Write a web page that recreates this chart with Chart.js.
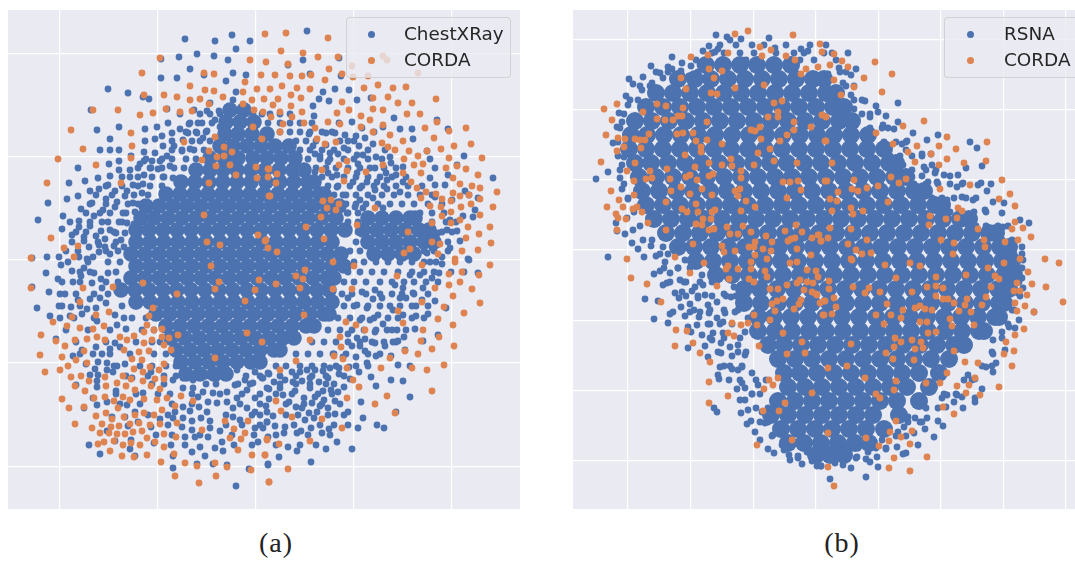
<!DOCTYPE html>
<html><head><meta charset="utf-8">
<script src="https://cdn.jsdelivr.net/npm/chart.js@4/dist/chart.umd.min.js"></script>
<style>
html,body{margin:0;padding:0;background:#fff;width:1075px;height:561px;overflow:hidden}
canvas{position:absolute;background:#EAEAF2;display:block}
.legend{position:absolute;box-sizing:border-box;height:61px;top:17px;background:rgba(234,234,242,.8);border:1px solid rgba(204,204,204,.8);border-radius:4px;font:18.4px "DejaVu Sans",sans-serif;color:#262626}
.legend span{position:absolute;white-space:nowrap;line-height:22px}
.legend i{position:absolute;width:7px;height:7px;border-radius:50%}
.cap{position:absolute;top:527px;font:28px "Liberation Serif",serif;letter-spacing:1px;color:#222;transform:translateX(-50%)}
</style></head><body>
<canvas id="a" width="512" height="499" style="left:8px;top:10px"></canvas>
<canvas id="b" width="502" height="499" style="left:573px;top:10px"></canvas>
<div class="legend" style="left:346px;width:165px"><i style="left:21px;top:13px;background:#4C72B0"></i><i style="left:21px;top:39px;background:#DD8452"></i><span id="la1" style="left:57px;top:5px"></span><span id="la2" style="left:57px;top:31px"></span></div>
<div class="legend" style="left:944px;width:140px"><i style="left:22px;top:13px;background:#4C72B0"></i><i style="left:22px;top:39px;background:#DD8452"></i><span id="lb1" style="left:59px;top:5px"></span><span id="lb2" style="left:59px;top:31px"></span></div>
<div class="cap" id="ca" style="left:276px"></div>
<div class="cap" id="cb" style="left:842px"></div>
<script>
// Values are estimates, in arbitrary embedding units; lists alternate x,y.
const captions=["(a)","(b)"];
const seriesA=["ChestXRay","CORDA"];
const seriesB=["RSNA","CORDA"];
const xTicksA=[-196,-98,0,98,196];
const yTicksA=[206,103,0,-103,-207];
const xTicksB=[-188,-125,-62,0,63,125,188,250];
const yTicksB=[210,140,70,0,-71,-141,-211];

const cordaA=[9,226,-96,202,-6,200,10,198,-114,187,-52,187,-42,186,5,185,-11,178,-66,174,1,171,-51,170,-42,169,-13,168,-112,165,-92,165,-79,163,-33,163,-66,160,-56,161,-4,160,8,161,-47,156,-13,156,-163,150,-138,150,-90,151,-103,147,-76,148,-64,149,-2,150,7,148,-116,145,-3,133,-185,130,-125,127,-41,123,6,121,-72,118,-124,114,-173,111,-32,113,-47,109,-24,108,-39,103,-32,104,-125,102,-198,101,-54,100,-160,95,-40,94,-26,95,0,93,12,91,-20,85,1,82,12,83,-209,77,-135,77,-47,77,13,64,-52,45,-205,22,2,25,10,20,-49,18,-36,15,-178,14,-192,12,-225,2,-182,3,
30,227,72,222,25,209,47,207,62,203,82,203,32,196,127,204,131,200,115,199,96,194,73,191,19,185,34,184,46,184,55,185,86,186,97,183,112,184,162,187,69,180,122,175,137,172,150,173,26,174,41,172,54,171,14,171,108,172,35,165,132,163,45,162,117,162,180,161,22,161,86,158,142,157,156,157,35,154,17,155,24,148,46,148,93,150,117,151,127,150,81,147,105,144,151,146,164,146,36,143,15,143,114,140,27,136,48,137,72,138,84,136,105,133,127,135,181,138,59,132,169,132,193,129,210,132,24,128,117,128,134,125,61,121,80,118,126,117,147,119,178,122,69,116,215,116,198,114,132,113,139,110,153,109,185,111,171,109,162,104,148,101,226,102,193,102,91,99,167,96,158,95,83,95,127,95,201,94,190,92,210,91,66,90,13,91,91,89,110,88,147,87,165,87,222,85,21,86,197,82,88,79,20,77,155,78,204,76,216,74,224,72,161,72,241,68,170,68,180,66,197,67,204,64,213,65,14,64,165,62,186,61,224,61,75,60,67,59,83,56,195,59,215,56,174,54,71,52,80,50,119,52,185,53,237,53,205,53,195,48,224,45,186,44,65,43,204,40,195,37,176,37,50,33,101,35,212,33,234,33,152,28,223,26,68,21,9,19,210,22,176,18,184,16,235,17,12,12,154,11,206,9,222,10,21,8,148,7,182,6,199,1,
-45,-6,3,-20,-37,-22,-113,-23,-143,-27,-225,-28,-173,-28,-41,-29,-1,-30,-79,-34,-11,-41,-176,-42,-103,-48,-147,-52,-160,-55,-107,-56,-184,-57,-203,-62,-109,-65,-152,-66,-189,-66,-176,-68,-163,-69,-94,-69,-102,-70,-112,-72,-9,-73,-215,-75,-78,-75,-136,-77,-122,-76,-159,-77,-94,-77,-87,-78,-104,-80,-129,-80,-169,-79,-181,-80,-151,-80,-200,-81,6,-82,-112,-83,-92,-85,-191,-86,-132,-90,-85,-90,-107,-91,-117,-92,-172,-91,-216,-95,-194,-97,-124,-99,-114,-100,-41,-98,-180,-100,-169,-103,-92,-104,-188,-106,-106,-107,-122,-109,-97,-110,-196,-110,-211,-112,-113,-112,-133,-116,-185,-117,-175,-116,-151,-117,-125,-119,-101,-119,-92,-119,-167,-121,-113,-121,-139,-123,-181,-126,-150,-126,-130,-126,-105,-126,-171,-131,-121,-130,-96,-129,-194,-139,-162,-138,-151,-137,-133,-137,-126,-140,-112,-139,-99,-140,-89,-138,-75,-136,-142,-141,-63,-141,-187,-148,-172,-147,-138,-148,-81,-146,-94,-150,-150,-153,-112,-153,-121,-155,-102,-155,-160,-156,-132,-157,-144,-159,-181,-164,-154,-164,-137,-166,-126,-164,-117,-163,-106,-165,-96,-164,-79,-163,-31,-161,-8,-161,-145,-167,-164,-168,-54,-170,-22,-169,-114,-171,-156,-173,-147,-173,-139,-174,-131,-174,-123,-172,-92,-174,-11,-173,-80,-177,-109,-178,-26,-178,-15,-179,11,-180,-142,-181,-125,-183,-152,-182,-158,-184,-101,-182,-133,-185,-116,-185,-92,-187,-18,-190,-146,-191,-82,-194,-109,-195,-134,-196,-122,-197,-4,-195,9,-195,-95,-202,-71,-203,-59,-206,-41,-203,-29,-207,-5,-210,-81,-216,-40,-216,-57,-223,13,-222,
77,-2,98,-6,199,-2,234,-5,166,-5,49,-10,141,-16,40,-16,47,-19,193,-14,206,-12,223,-15,20,-24,44,-28,77,-29,96,-29,179,-28,193,-25,204,-22,216,-29,197,-36,166,-42,224,-43,188,-47,142,-51,208,-53,48,-55,182,-59,90,-62,147,-63,197,-65,100,-65,109,-70,167,-70,84,-77,183,-77,54,-80,165,-81,85,-87,198,-86,176,-89,149,-91,162,-94,78,-96,134,-98,87,-99,40,-101,188,-105,91,-108,125,-108,156,-108,171,-110,24,-110,97,-120,103,-127,176,-131,131,-136,91,-138,119,-144,20,-141,25,-151,139,-153,36,-157,66,-159,86,-168,11,-179,23,-184,54,-181,9,-195,32,-209,13,-222];

const chestXRay=[-71,221,-41,219,-24,225,-6,219,-20,211,-59,206,-77,203,-42,204,-28,200,-95,201,-66,191,-23,187,-10,185,-95,182,-79,182,-52,185,-30,179,-148,171,-128,167,-107,161,-113,163,-20,168,-23,160,-46,157,-28,153,-165,150,-89,151,-76,146,-62,150,-49,149,-37,149,-19,149,-41,140,-14,149,-159,130,-137,133,-111,131,-99,133,-88,137,-67,136,-58,137,-33,141,-76,131,-84,127,-68,127,-59,127,-49,129,-36,133,-146,121,-94,124,-101,121,-111,119,-64,119,-73,120,-53,122,-156,110,-146,110,-137,110,-93,114,-82,114,-66,111,-112,108,-101,107,-125,104,-89,104,-74,109,-137,99,-147,96,-178,92,-104,99,-96,99,-112,99,-116,96,-86,94,-137,90,-105,92,-98,91,-126,90,-146,84,-158,82,-112,85,-126,83,-171,79,-187,77,-83,82,-148,75,-123,75,-113,76,-93,83,-166,69,-157,71,-141,69,-129,69,-114,67,-208,57,-178,64,-189,61,-150,61,-131,64,-164,57,-139,58,-123,57,-175,51,-153,50,-141,53,-218,40,-193,44,-162,44,-133,47,-121,48,-177,39,-154,38,-137,38,-129,37,-177,33,-166,34,-194,31,-146,30,-155,29,-122,36,-184,25,-172,23,-160,24,-140,27,-131,27,-151,21,-172,19,-135,20,-157,15,-167,13,-151,13,-142,14,-132,13,-209,3,-197,3,-177,3,-163,3,-157,8,-146,6,-224,2,-169,1,
51,229,47,200,83,202,32,195,54,186,85,184,79,171,93,170,67,168,63,161,73,159,101,160,115,162,57,154,58,144,138,142,96,138,181,140,83,137,106,132,144,131,156,131,118,128,192,131,70,127,79,127,89,125,100,124,127,133,53,126,109,122,157,121,92,119,88,112,103,114,117,116,70,115,57,114,129,110,171,109,59,106,74,107,82,106,101,105,107,105,120,103,208,104,134,103,64,104,72,98,102,96,119,92,135,97,147,93,174,101,179,92,201,95,59,88,101,87,72,87,130,87,174,82,192,85,237,82,81,85,140,85,111,78,97,78,121,78,131,80,147,78,179,75,189,75,68,68,81,73,104,72,209,69,119,70,131,71,144,68,179,63,196,60,213,65,99,53,87,65,104,60,117,62,222,62,107,52,127,52,219,50,91,47,207,44,217,43,194,40,112,42,191,30,201,29,182,27,204,19,194,12,176,12,212,1,186,3,171,7,
-210,-13,-195,-5,-184,-11,-198,-19,-183,-22,-175,-16,-164,-23,-172,-8,-207,-32,-224,-27,-191,-34,-154,-28,-162,-13,-155,-19,-148,-13,-166,-39,-178,-40,-156,-38,-219,-48,-197,-46,-185,-47,-169,-49,-160,-48,-150,-43,-206,-56,-186,-56,-174,-54,-141,-55,-132,-58,-159,-61,-139,-65,-130,-69,-200,-79,-141,-83,-160,-87,-146,-89,-136,-87,-174,-90,-183,-96,-163,-94,-154,-94,-170,-104,-158,-102,-149,-103,-139,-106,-131,-104,-161,-109,-149,-110,-105,-112,-166,-115,-158,-115,-143,-112,-180,-125,-159,-127,-159,-121,-140,-131,-124,-118,-113,-133,-163,-138,-149,-142,-159,-145,-129,-145,-172,-148,-121,-152,-144,-157,-131,-157,-118,-162,-105,-167,-149,-171,-128,-166,-141,-181,-125,-180,-167,-185,-126,-189,-102,-183,-156,-194,-121,-196,-83,-196,-43,-204,-59,-204,-29,-205,-83,-208,-7,-209,12,-204,-20,-226,-81,-152,-73,-147,-66,-151,-57,-147,-49,-152,-83,-158,-73,-158,-64,-161,-55,-158,-46,-161,-74,-167,-64,-170,-46,-168,-36,-171,-71,-177,-61,-177,-48,-177,-34,-182,-71,-185,-64,-192,-56,-187,-51,-196,-41,-188,-33,-191,-23,-157,-16,-160,-1,-168,2,-182,11,-162,-23,-148,-9,-148,-1,-152,11,-152,-39,-143,-29,-142,-19,-138,-9,-130,-1,-138,11,-128,-48,-142,-58,-137,-73,-128,-63,-128,-53,-132,-43,-133,-29,-132,-21,-125,-11,-120,-3,-123,6,-118,-83,-120,-73,-118,-63,-120,-39,-118,-29,-115,-19,-110,-1,-112,12,-113,-96,-159,
213,0,186,-4,222,-13,208,-12,195,-12,183,-13,174,-2,176,-18,164,-15,154,-15,167,-28,157,-33,147,-28,139,-25,179,-41,166,-40,150,-38,144,-38,126,-38,117,-39,156,-46,190,-48,172,-54,160,-56,147,-55,137,-50,122,-55,111,-48,101,-45,92,-38,119,-30,106,-32,114,-60,127,-64,104,-60,141,-70,159,-69,119,-72,131,-70,92,-74,101,-78,109,-79,119,-83,148,-77,182,-75,167,-81,142,-81,129,-86,137,-82,96,-86,104,-86,109,-91,149,-90,87,-97,100,-97,120,-96,135,-96,77,-94,111,-103,142,-105,154,-106,83,-108,93,-107,103,-112,74,-108,67,-111,59,-110,51,-110,44,-112,36,-112,83,-114,13,-114,115,-117,135,-120,147,-121,94,-119,72,-118,63,-122,54,-118,46,-121,37,-122,29,-120,18,-122,7,-118,120,-126,78,-124,88,-127,67,-131,54,-128,39,-131,24,-128,13,-129,75,-130,82,-132,154,-137,59,-137,48,-138,33,-142,13,-139,27,-135,79,-141,68,-140,56,-143,105,-142,10,-146,40,-147,46,-148,72,-148,64,-146,79,-154,92,-152,53,-153,140,-152,17,-156,61,-152,107,-158,49,-160,58,-158,121,-165,128,-168,102,-168,11,-162,73,-169,19,-166,29,-167,55,-168,7,-168,66,-173,45,-171,41,-173,28,-173,12,-177,81,-182,32,-187,70,-189,41,-191,96,-189,23,-197,55,-202,12,-205];

// Further estimated dots for the busy band around the core: [y, x, x, ...]
const chestXRayBandRows=[
[146,-56,-46,-36,-3,6,14,24,34],[137,-66,-54,-44,12,24,34,44,56],[128,-70,-60,-50,24,34,44,54,66,76],
[119,-84,-56,-46,40,50,60,84,98],[110,-84,-74,-62,-52,44,54,66,78,92,112],[101,-110,-94,-84,-70,-60,52,64,74,88,98,112,126],
[92,-118,-106,-94,-82,-72,60,70,80,92,104,114,128,140],[83,-134,-118,-104,-92,66,76,88,100,112,124,136,150],
[74,-150,-134,-118,-106,-94,72,82,94,106,118,128,140,152,166],[65,-160,-144,-122,-108,78,90,100,112,126,138,152,164,176],
[56,-166,-150,-128,-118,90,100,110,122,134,146,158,172,186],[47,-170,-156,-146,-130,92,102,164,176,188],
[38,-186,-166,-148,-134,92,102,176,190,200],[28,-180,-170,-142,102,186,196],[18,-184,-158,-140,100,108,192],
[9,-190,-178,-150,-138,94,104,168,178,192],[-2,-188,-168,-148,-136,98,108,120,132,144,156,168,180],
[-12,-176,-166,-140,92,104,116,128,142,156,168,178],[-22,-194,-176,-150,-138,88,98,110,124,136,148,158,170,182],
[-34,-196,-180,-162,-148,86,96,110,124,136,146,158,172],[-46,-194,-176,-134,-120,88,98,112,124,134,144,160,172],
[-58,-196,-182,-162,-124,-110,82,94,106,118,132,142,156,168],[-70,-190,-168,-146,-114,-102,72,84,96,108,120,136,150],
[-82,-180,-150,-120,-104,-96,56,68,80,92,104,116,128,140],[-94,-176,-146,-126,-102,-90,40,52,64,78,90,112,124],
[-106,-142,-116,-104,-90,-80,20,30,44,56,68,80,100,112],[-116,-130,-108,-92,-80,-50,-34,-10,4,24,40,56,70,88],
[-124,-104,-92,-50,-40,-18,-6,24,40,54,70],[-134,-140,-120,-98,-86,-64,-36,-14,4,20,36,62,76],
[-144,-136,-116,-84,-64,-16,4,30,48,66,84],[-155,-108,-88,-30,-4,4,30,42,72,88],[-165,-88,-30,-14,4,38,64,78,92],
[-175,-100,-84,-56,-24,-2,20,52,74],[-185,-85,-22,-4,20,44,60]];

// Hand-placed larger marks standing in for solid regions where single dots cannot be told apart: [y, x, x, ...]
const chestXRayDenseRows=[
[150,-26,-12],[138,-30,-16,-2],[126,-31,-18,-4,11],[114,-36,-23,-9,5,19,33],[102,-46,-32,-18,-3,11,25,39],
[90,-60,-46,-33,-19,-5,9,23,37,48],[78,-75,-61,-47,-33,-19,-5,10,24,38,52,58],
[66,-90,-76,-62,-48,-34,-20,-6,8,22,36,50,64,68],[54,-110,-97,-83,-69,-55,-41,-27,-13,1,15,29,43,57,71,83],
[42,-115,-102,-88,-74,-60,-46,-32,-18,-4,10,24,38,52,66,80,112,126,140,154,159],
[30,-120,-107,-93,-79,-65,-51,-37,-23,-9,5,19,33,47,61,75,89,107,121,135,149,163,173],
[18,-120,-106,-92,-78,-64,-50,-36,-22,-8,6,20,34,48,62,76,112,126,140,154,168,178],
[6,-125,-111,-97,-83,-69,-55,-41,-27,-13,1,15,29,43,57,71,85,118,132,146,158],
[-6,-120,-106,-92,-78,-64,-50,-36,-22,-8,6,20,34,48,62,76,88],
[-18,-125,-111,-97,-83,-69,-55,-41,-27,-13,1,15,29,43,57,71,78],
[-30,-135,-121,-107,-93,-79,-65,-51,-37,-23,-9,5,19,33,47,61,73],
[-42,-120,-106,-92,-78,-64,-50,-36,-22,-8,6,20,34,48,62,76],
[-54,-100,-86,-72,-58,-44,-30,-16,-2,12,26,40,54,68,73],
[-66,-90,-76,-62,-48,-34,-20,-6,8,22,36,50,58],[-78,-85,-71,-57,-43,-29,-15,-1,13,27,38],
[-90,-80,-66,-52,-38,-24,-10,4,18,24],[-102,-75,-61,-47,-33,-19,-5,4],[-114,-70,-56,-42,-30]];

const cordaB=[-81,216,-68,219,-23,215,4,206,-125,193,-108,195,-88,197,-56,203,-45,200,-54,194,-30,194,-21,190,6,198,2,183,-10,181,-15,176,-107,181,-94,179,-135,172,-102,172,-52,165,-81,162,-130,161,-105,157,-99,156,-199,146,-212,141,-159,146,-150,144,-133,142,-173,138,-42,147,-34,149,-38,138,-159,131,-151,130,-143,130,-138,134,-134,134,-38,133,-48,133,-204,130,-109,128,-22,128,6,135,-5,123,-56,123,-22,120,-65,120,-61,119,-210,115,-167,116,-139,116,-133,117,-123,117,-29,115,-198,112,-191,111,-181,111,-176,110,-171,110,-120,109,-109,110,-55,111,-36,109,9,109,-192,103,-175,102,-94,106,-115,103,-46,101,-199,99,-115,98,-58,97,-131,95,-85,91,-42,89,-215,88,-181,87,-107,87,-94,85,-84,84,-62,85,-19,87,-121,83,-149,81,-166,79,-189,79,-75,79,-164,72,-170,71,-146,71,-130,73,-126,75,-107,74,-103,76,-75,72,-119,70,-182,69,-33,68,-26,68,-18,69,9,69,-135,63,-114,61,-205,59,-145,59,-81,59,-76,61,-15,60,-182,55,-126,56,-104,55,-78,54,-197,50,-29,52,-150,48,-70,49,-120,46,-209,43,-193,43,-179,43,-183,41,-61,43,-134,41,-174,38,-129,38,-118,38,-104,38,-101,40,-75,39,-200,36,-198,32,-190,31,-113,31,-105,31,-168,27,-120,26,-114,25,-73,24,-20,25,-89,23,-199,20,-150,20,-107,20,-102,21,-31,19,-65,18,-14,18,2,15,-86,16,-78,16,-50,14,-4,12,-28,9,-25,11,-21,12,5,9,-44,8,-61,8,-123,6,-94,4,-67,3,-62,3,-53,1,-19,1,-45,-1,-81,-1,-92,-2,-5,-5,-61,-5,-189,-9,-141,-7,-49,-9,
18,196,26,189,59,188,14,185,32,183,76,176,48,172,18,170,38,163,66,158,25,155,10,133,108,129,87,124,60,117,131,113,10,109,171,108,77,106,123,104,101,104,140,101,92,98,115,96,131,91,170,89,148,87,99,88,123,85,16,87,75,73,186,70,90,71,11,69,38,70,83,67,62,64,154,65,36,61,51,62,42,59,124,61,22,58,194,56,183,51,14,51,21,49,72,48,199,44,35,42,142,42,146,39,16,39,47,39,37,36,114,34,130,31,141,32,199,28,113,25,207,22,196,21,14,22,35,21,162,21,215,13,3,15,12,12,5,9,51,10,125,10,168,10,202,10,32,6,138,7,189,8,169,3,40,0,46,-4,55,-3,137,-4,35,-9,229,-9,204,-9,
-112,-13,-88,-16,-90,-19,-78,-19,-65,-12,-65,-19,-51,-21,-49,-27,-126,-23,-87,-29,-185,-28,-169,-34,-67,-29,-62,-32,-99,-36,-26,-13,-19,-12,-9,-20,0,-21,2,-27,-16,-30,-19,-33,-9,-32,-3,-33,-29,-35,-46,-39,-38,-39,-12,-40,-4,-42,0,-44,-155,-52,-33,-49,-39,-51,-44,-54,-15,-50,-17,-54,4,-53,8,-51,-22,-59,-41,-61,-62,-65,7,-65,-46,-70,-84,-73,-75,-75,-68,-73,-59,-75,-140,-80,-129,-81,-88,-83,-82,-86,-33,-83,-14,-92,-123,-93,-141,-96,-57,-96,-116,-103,-11,-103,-29,-104,-106,-112,-47,-130,-38,-128,-43,-135,-107,-132,-52,-139,-4,-143,-88,-146,-107,-153,-31,-153,-53,-161,-37,-161,-24,-190,-59,-195,
243,-13,188,-13,36,-10,69,-15,94,-13,104,-16,172,-18,212,-22,150,-25,179,-26,183,-29,80,-28,120,-27,13,-31,201,-33,216,-34,230,-37,175,-37,120,-36,111,-37,127,-38,37,-37,53,-38,13,-39,198,-41,204,-41,96,-42,64,-42,49,-43,211,-45,1,-45,120,-46,170,-47,151,-49,127,-49,132,-49,18,-48,247,-52,9,-51,71,-54,138,-53,199,-53,149,-55,209,-56,166,-55,20,-57,99,-58,104,-56,109,-59,116,-60,143,-61,155,-62,201,-61,218,-62,87,-60,8,-65,16,-64,60,-65,75,-65,85,-68,134,-69,68,-74,104,-72,111,-72,136,-76,158,-75,208,-79,112,-83,120,-82,199,-85,79,-88,96,-90,85,-92,105,-92,190,-92,35,-94,78,-97,99,-99,107,-98,138,-101,198,-101,188,-104,70,-103,77,-109,98,-110,149,-112,162,-113,196,-116,12,-118,31,-116,131,-123,49,-128,159,-128,110,-133,124,-133,80,-131,153,-135,141,-136,183,-137,78,-140,150,-143,60,-144,164,-145,64,-148,127,-157,138,-164,80,-171,12,-183,74,-182,96,-181,50,-188,85,-187,73,-191,94,-194,63,-196,111,-207,78,-208,12,-217,73,-218,94,-221,18,-236];

const rsna=[-47,212,-100,215,-89,213,-86,210,-75,211,-107,204,-113,199,-98,201,-101,198,-41,202,-15,201,-8,199,-144,193,-134,187,-165,184,-125,184,-116,185,-148,183,-144,181,-135,179,-156,177,-187,171,-173,173,-153,172,-143,172,-127,174,-183,166,-164,167,-190,154,-174,160,-188,145,-197,137,-194,128,-199,123,-203,107,-208,78,-220,71,-196,72,-194,61,-188,51,-200,27,-199,19,-191,16,-183,20,-184,7,-208,-7,-172,-7,-178,1,-165,4,-160,-6,-153,3,-192,93,-194,85,-173,10,-189,32,
32,197,8,197,40,181,35,175,23,182,12,176,27,167,35,155,82,147,49,149,38,141,60,144,62,138,70,134,54,133,82,128,67,125,78,121,97,117,122,115,111,110,154,108,161,102,91,109,86,106,72,104,106,96,115,96,90,100,166,84,150,82,87,85,108,83,116,85,119,77,128,75,134,74,142,75,106,74,112,68,175,66,165,67,147,67,141,63,102,63,162,65,171,59,131,50,177,48,188,47,204,30,213,27,187,23,206,3,196,3,186,37,169,40,157,50,146,53,121,68,96,73,
-162,-24,-171,-49,-158,-51,-162,-69,-148,-73,-146,-64,-143,-62,-153,-35,-149,-33,-141,-43,-137,-48,-134,-42,-135,-57,-126,-54,-131,-66,-126,-62,-136,-30,-130,-32,-146,-23,-138,-18,-156,-21,-151,-12,-124,-41,-121,-37,-118,-48,-113,-35,-111,-45,-108,-55,-116,-62,-117,-67,-107,-63,-99,-68,-99,-52,-91,-63,-92,-44,-82,-37,-85,-47,-119,-75,-128,-77,-125,-82,-106,-74,-93,-72,-114,-85,-103,-83,-93,-83,-104,-90,-95,-93,-128,-98,-111,-96,-86,-97,-108,-107,-95,-103,-84,-106,-96,-117,-92,-116,-84,-119,-98,-125,-97,-129,-87,-130,-78,-120,-74,-133,-79,-139,-71,-138,-64,-144,-76,-150,-71,-150,-102,-158,-99,-162,-75,-163,-68,-160,-69,-174,-65,-171,-61,-182,-56,-190,-48,-199,-42,-203,-32,-200,-27,-205,-18,-206,-26,-210,-14,-214,-4,-211,1,-216,5,-216,-54,-162,-51,-173,-43,-185,-34,-195,-9,-202,-71,-105,-74,-117,-64,-123,-58,-135,-78,-95,-71,-82,-81,-62,-74,-48,-68,-68,-51,-65,-84,-25,-94,-25,-104,-18,-114,-25,-124,-15,-131,-10,
207,-10,206,-18,206,-28,207,-38,202,-43,198,-60,218,-62,203,-70,199,-78,193,-77,186,-82,177,-90,189,-100,177,-104,180,-113,170,-117,177,-122,152,-125,159,-129,166,-139,159,-148,159,-152,147,-158,138,-152,141,-145,146,-147,131,-145,126,-148,130,-157,122,-171,127,-176,109,-179,118,-187,111,-168,104,-172,99,-168,92,-167,88,-177,98,-183,82,-182,102,-195,81,-197,90,-203,87,-204,70,-199,66,-190,61,-207,54,-212,50,-209,62,-217,50,-227,35,-218,27,-215,19,-213,14,-229,5,-216,41,-207,52,-202,32,-208,42,-198];

const rsnaBandRows=[
[205,-96,-80,-64,-52,-30,-6,10],[197,-104,-92,-76,-62,-40,-22,-12,16],[190,-120,-108,-94,-70,-16,-2,20],[178,-160,-148,-118,24,30],
[164,-176,-166,30,38],[150,-186,-178,38,46],[136,-192,46,54],[122,-196,54,66,72],[108,-198,68,80,90],[94,-198,74,84,96,106],
[80,-196,84,96,110,120],[66,-192,98,110,122,134,146],[52,-188,116,126,138,150,160],[38,-182,134,146,158,170],[24,-176,160,170,182,192],
[10,-164,186,196],[-4,-156,-148,198,206],[-18,-152,-138,-126,204],[-32,-146,-132,-116,-104,203],[-46,-130,-118,-104,-90,-80,204],
[-60,-122,-106,-92,-78,196],[-74,-108,-96,-84,192],[-88,-106,-92,-76,186],[-102,-98,-78,-70,176],[-116,-86,-74,166,176],
[-130,-76,-60,-50,148,156],[-144,-64,-56,128,140],[-158,-60,-48,110,122],[-172,-56,-48,92,106],[-186,-44,80,90],[-198,-30,-12,8,30,60,70],[-208,-18,-4,20,40]];

const rsnaDenseRows=[
[185,-110,-93,-76,-59,-42,-25],[171,-138,-121,-105,-88,-71,-54,-37,-20,-3,8],
[157,-160,-143,-126,-109,-92,-75,-58,-41,-24,-7,10,20],[143,-170,-153,-136,-119,-102,-85,-68,-51,-34,-17,0,17,28],
[129,-181,-164,-147,-130,-113,-96,-79,-62,-45,-28,-11,6,23,36],[115,-185,-169,-152,-135,-118,-101,-84,-67,-50,-33,-16,1,18,35,52],
[101,-187,-170,-153,-136,-119,-102,-85,-68,-51,-34,-17,0,17,34,51,68],[87,-181,-165,-148,-131,-114,-97,-80,-63,-46,-29,-12,5,22,39,56,73,80],
[73,-177,-160,-143,-126,-109,-92,-75,-58,-41,-24,-7,10,27,44,61,78,90],[59,-174,-157,-140,-123,-106,-89,-72,-55,-38,-21,-4,13,30,47,64,81,98,108],
[45,-170,-153,-136,-119,-102,-85,-68,-51,-34,-17,0,17,34,51,68,85,102,119,126],[31,-162,-145,-128,-111,-94,-77,-60,-43,-26,-9,8,25,42,59,76,93,110,127,144,153],
[17,-150,-133,-116,-99,-82,-65,-48,-31,-14,3,20,37,54,71,88,105,122,139,156,173,180],[3,-138,-122,-105,-88,-71,-54,-37,-20,-3,14,31,48,65,82,99,116,133,150,167,184,193],
[-11,-120,-103,-86,-69,-52,-35,-18,-1,16,33,50,67,84,101,118,135,152,169,186,196],[-25,-100,-84,-67,-50,-33,-16,1,18,35,52,69,86,103,120,137,154,171,188,198],
[-39,-72,-56,-39,-22,-5,12,29,46,63,80,97,114,131,148,165,182,193],[-53,-72,-55,-38,-21,-4,13,30,47,64,81,98,115,132,149,166,183,188],
[-67,-58,-42,-25,-8,9,26,43,60,77,94,111,128,145,162,179,183],[-81,-58,-41,-24,-7,10,27,44,61,78,95,112,129,146,163,168],
[-95,-48,-32,-15,2,19,36,53,70,87,104,121,138,148],[-109,-38,-21,-4,13,30,47,64,81,98,115,133],
[-123,-32,-16,1,18,35,52,69,86,103,123],[-137,-28,-11,6,23,40,57,74,91,113],[-151,-38,-21,-4,13,30,47,64,81,103],
[-165,-45,-28,-11,6,23,40,57,83],[-179,-35,-18,-1,16,33,50,68],[-193,-28,-12,5,22,39,53],[-205,0,14,28]];

const BLUE="#4C72B0",ORANGE="#DD8452",R=3.4;
const pairs=f=>{const o=[];for(let i=0;i<f.length;i+=2)o.push({x:f[i],y:f[i+1]});return o;};
const rows=r=>r.flatMap(([y,...xs])=>xs.map(x=>({x,y})));
function draw(id,names,dots,band,corda,dense,denseR,xr,yr,xt,yt){
  const ax=(range,t)=>({type:"linear",min:range[0],max:range[1],
    grid:{color:"#fff",lineWidth:1.2,drawTicks:false},border:{display:false},
    ticks:{display:false},afterBuildTicks:s=>{s.ticks=t.map(v=>({value:v}));}});
  new Chart(document.getElementById(id),{type:"scatter",data:{datasets:[
    {label:names[0]+" (dense region)",data:rows(dense),backgroundColor:BLUE,pointRadius:denseR,borderWidth:0,order:4},
    {label:names[0]+" (band)",data:rows(band),backgroundColor:BLUE,pointRadius:R,borderWidth:0,order:3},
    {label:names[0],data:pairs(dots),backgroundColor:BLUE,pointRadius:R,borderWidth:0,order:2},
    {label:names[1],data:pairs(corda),backgroundColor:ORANGE,pointRadius:R,borderWidth:0,order:1}]},
    options:{responsive:false,animation:false,layout:{padding:0,autoPadding:false},
      plugins:{legend:{display:false},tooltip:{enabled:false}},
      scales:{x:ax(xr,xt),y:ax(yr,yt)}}});
}
draw("a",seriesA,chestXRay,chestXRayBandRows,cordaA,chestXRayDenseRows,7.8,[-248,264],[-249,250],xTicksA,yTicksA);
draw("b",seriesB,rsna,rsnaBandRows,cordaB,rsnaDenseRows,9,[-243,259],[-259,240],xTicksB,yTicksB);
la1.textContent=seriesA[0];la2.textContent=seriesA[1];
lb1.textContent=seriesB[0];lb2.textContent=seriesB[1];
ca.textContent=captions[0];cb.textContent=captions[1];
</script>
</body></html>
